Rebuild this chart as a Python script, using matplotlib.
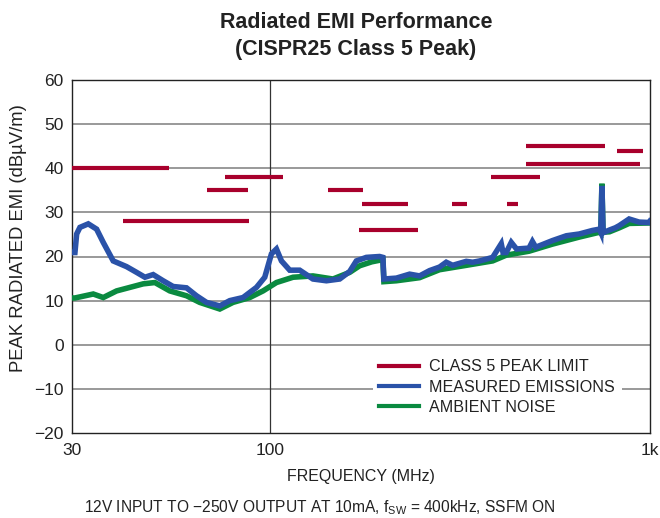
import matplotlib
matplotlib.use("Agg")
import matplotlib.pyplot as plt
from matplotlib.lines import Line2D
import matplotlib.ticker as mticker

plt.rcParams['font.family'] = ['Liberation Sans', 'DejaVu Sans']

# ---- data ----
limit_f_start = [30, 41, 68, 76, 142, 174, 171, 300, 420, 380, 470, 470, 820]
limit_f_end   = [54, 88, 87, 108, 175, 230, 245, 330, 450, 512, 760, 940, 960]
limit_db      = [40, 28, 35, 38, 35, 32, 26, 32, 32, 38, 45, 41, 44]

meas_f = [30, 30.54, 30.86, 31.48, 33.11, 34.83, 36.26, 38.52, 41.78, 44.40, 46.69,
          49.09, 52.16, 55.41, 60.09, 63.85, 67.84, 73.54, 78.13, 84.68, 91.87, 96.60,
          100.6, 103.7, 106.9, 112.4, 119.4, 129.4, 140.4, 152.2, 161.7, 168.4, 178.9,
          193.9, 197.8, 199.0, 214.6, 232.6, 247.1, 262.5, 278.8, 290.5, 302, 328, 341,
          356, 385, 405.6, 410, 418, 431, 445, 480, 490, 500, 553, 602, 651, 705, 736,
          742, 747, 752, 758, 782, 810, 830, 881, 936, 995, 1000]
meas_db = [20.9, 20.9, 25.1, 26.6, 27.4, 26.2, 23.2, 19.0, 17.7, 16.4, 15.3,
           15.9, 14.5, 13.2, 12.9, 11.1, 9.6, 8.8, 10.0, 10.7, 13.0, 15.3,
           20.6, 21.7, 19.0, 16.9, 16.9, 14.9, 14.5, 14.9, 16.6, 19.0, 19.8,
           20.0, 19.8, 14.9, 15.1, 16.0, 15.6, 16.8, 17.6, 18.7, 18.0, 18.9, 18.7,
           19.0, 19.8, 22.9, 20.9, 20.9, 23.2, 21.7, 21.9, 23.4, 22.1, 23.6, 24.7,
           25.1, 25.9, 26.2, 25.5, 36.0, 26.0, 25.5, 26.0, 26.5, 27.0, 28.5, 27.8,
           27.7, 28.0]

amb_f = [30, 30.54, 34.13, 36.26, 39.32, 42.63, 46.20, 49.6, 54.3, 60.09, 65.1,
         73.54, 79.7, 88.2, 95.6, 103.7, 114.7, 129.4, 146.1, 161.7, 171.8, 185,
         197.8, 199.0, 214.6, 247.1, 278.8, 328, 385, 418, 480, 553, 651, 736, 742,
         747, 752, 782, 830, 881, 995, 1000]
amb_db = [10.6, 10.6, 11.5, 10.7, 12.2, 13.0, 13.8, 14.1, 12.2, 11.1, 9.6,
          8.1, 9.6, 10.7, 12.2, 14.1, 15.3, 15.6, 14.9, 16.4, 17.9, 18.8,
          19.3, 14.3, 14.5, 15.2, 17.0, 18.0, 19.0, 20.3, 21.2, 22.8, 24.4, 25.5, 25.3,
          36.5, 25.5, 25.6, 26.5, 27.5, 27.6, 27.8]

legend_labels = ["CLASS 5 PEAK LIMIT", "MEASURED EMISSIONS", "AMBIENT NOISE"]
y_ticks = [-20, -10, 0, 10, 20, 30, 40, 50, 60]
x_ticks = [30, 100, 1000]
x_ticklabels = ["30", "100", "1k"]

RED = "#A8002C"
BLUE = "#2A52A8"
GREEN = "#0A8A40"
TXT = "#222222"

fig = plt.figure(figsize=(6.6, 5.18), dpi=100)
ax = fig.add_axes([72/660, 1-433/518, (650-72)/660, (433-80)/518])

ax.plot(amb_f, amb_db, color=GREEN, lw=4.0, solid_joinstyle='miter', zorder=3)
ax.plot(meas_f, meas_db, color=BLUE, lw=4.0, solid_joinstyle='miter', zorder=4)
for a, b, d in zip(limit_f_start, limit_f_end, limit_db):
    ax.plot([a, b], [d, d], color=RED, lw=3.0, solid_capstyle='butt', zorder=5)

ax.set_xscale('log')
ax.set_xlim(30, 1000)
ax.set_ylim(-20, 60)
ax.set_yticks(y_ticks)
ax.set_yticklabels(["\u2212" + str(-v) if v < 0 else str(v) for v in y_ticks])
ax.set_xticks(x_ticks)
ax.set_xticklabels(x_ticklabels)
ax.xaxis.set_minor_locator(mticker.NullLocator())
ax.tick_params(axis='y', length=0, labelsize=12.5, colors=TXT, pad=6)
ax.tick_params(axis='x', length=0, labelsize=12.5, colors=TXT, pad=7)
for y in y_ticks[1:-1]:
    ax.axhline(y, color='#999999', lw=1.4, zorder=1)
ax.axvline(100, color='#333333', lw=0.9, zorder=1)
for s in ax.spines.values():
    s.set_linewidth(1.0)
    s.set_color(TXT)

ax.set_xlabel("FREQUENCY (MHz)", fontsize=11.5, color=TXT)
ax.xaxis.set_label_coords(0.5, (433-477)/353)
ax.xaxis.label.set_verticalalignment('center')
ax.set_ylabel("PEAK RADIATED EMI (dB\u00b5V/m)", fontsize=13.3, color=TXT)
ax.yaxis.set_label_coords((19-72)/578, (433-238)/353)
ax.yaxis.label.set_verticalalignment('center')

fig.text(356/660, 1-22.5/518, "Radiated EMI Performance", ha='center', va='center',
         fontsize=15.5, fontweight='bold', color=TXT)
fig.text(356/660, 1-50/518, "(CISPR25 Class 5 Peak)", ha='center', va='center',
         fontsize=15.5, fontweight='bold', color=TXT)
fig.text(320/660, 1-508/518,
         "12V INPUT TO \u2212250V OUTPUT AT 10mA, f$_{\\mathregular{SW}}$ = 400kHz, SSFM ON",
         ha='center', va='center', fontsize=11.2, color=TXT)

handles = [Line2D([], [], color=RED, lw=3), Line2D([], [], color=BLUE, lw=3),
           Line2D([], [], color=GREEN, lw=3)]
leg = ax.legend(handles, legend_labels, loc='upper left',
                bbox_to_anchor=(373/660, 1-353/518), bbox_transform=fig.transFigure,
                frameon=True, fancybox=False, framealpha=1, edgecolor='none',
                facecolor='white', fontsize=11.6, handlelength=2.48, handletextpad=0.62,
                labelspacing=0.33, borderpad=0.4, borderaxespad=0)
leg.set_zorder(6)
for t in leg.get_texts():
    t.set_color(TXT)

fig.savefig("out.png", dpi=100)
